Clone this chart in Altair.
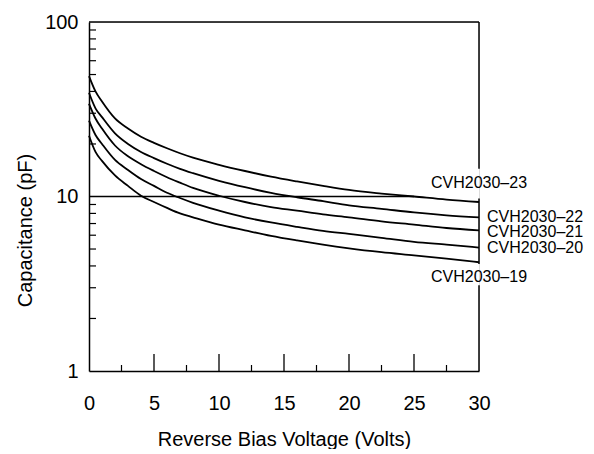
import altair as alt
import pandas as pd

# Reverse bias voltage (V) sample points
voltage = [0, 0.5, 1, 2, 3, 4, 5, 6, 7, 8, 10, 12, 14, 16, 18, 20, 22.5, 25, 27.5, 30]
# Capacitance (pF) per device
c23 = [49, 40, 35, 28, 24.5, 22, 20.3, 18.9, 17.7, 16.7, 15.2, 14.0, 13.0, 12.2, 11.5, 10.9, 10.4, 10.0, 9.6, 9.3]
c22 = [39.3, 32, 28.5, 23, 20, 18, 16.6, 15.4, 14.4, 13.6, 12.3, 11.3, 10.5, 9.9, 9.4, 8.9, 8.5, 8.1, 7.8, 7.6]
c21 = [34, 28, 24.5, 19.6, 17.0, 15.3, 14.0, 12.9, 12.0, 11.2, 10.1, 9.3, 8.7, 8.3, 7.9, 7.6, 7.2, 6.9, 6.6, 6.4]
c20 = [27.2, 22.5, 20, 16.2, 14.2, 12.6, 11.5, 10.5, 9.8, 9.2, 8.3, 7.6, 7.1, 6.7, 6.35, 6.1, 5.8, 5.5, 5.3, 5.1]
c19 = [22.3, 18, 16, 13.2, 11.5, 10.1, 9.3, 8.6, 8.0, 7.6, 6.9, 6.4, 5.95, 5.6, 5.3, 5.05, 4.8, 4.6, 4.4, 4.2]
series_names = ["CVH2030–23", "CVH2030–22", "CVH2030–21", "CVH2030–20", "CVH2030–19"]
series_values = [c23, c22, c21, c20, c19]

# axis tick values
x_labels = [0, 5, 10, 15, 20, 25, 30]
x_major_ticks = [5, 10, 15, 20, 25]
x_minor_ticks = [2.5, 7.5, 12.5, 17.5, 22.5, 27.5]
y_labels = [1, 10, 100]
y_minor_ticks = [2, 3, 4, 5, 6, 7, 8, 9, 20, 30, 40, 50, 60, 70, 80, 90]

# label anchors (value coordinates)
label_center_names = ["CVH2030–23", "CVH2030–19"]
label_center_y = [11.9, 3.44]
label_left_names = ["CVH2030–22", "CVH2030–21", "CVH2030–20"]
label_left_y = [7.6, 6.3, 5.05]

# right frame segments (broken by labels)
right_seg_y = [1, 4.1, 14.4]
right_seg_y2 = [3.1, 9.75, 100]

FONT = "Liberation Sans"
W, H = 390, 349

rows = []
for name, vals in zip(series_names, series_values):
    for v, c in zip(voltage, vals):
        rows.append({"series": name, "v": v, "c": c})
df = pd.DataFrame(rows)

xs = alt.Scale(domain=[0, 30], nice=False, zero=False)
ys = alt.Scale(type="log", domain=[1, 100], nice=False)

lines = alt.Chart(df).mark_line(color="black", strokeWidth=1.8, interpolate="monotone").encode(
    x=alt.X("v:Q", scale=xs, axis=alt.Axis(
        values=x_labels, ticks=False, tickSize=0, grid=False, labelFlush=False,
        labelFontSize=20, labelFont=FONT, labelColor="black", labelPadding=38,
        labelBaseline="alphabetic", domainColor="black", domainWidth=1.5,
        title="Reverse Bias Voltage (Volts)", titleFontSize=20, titleFont=FONT,
        titleFontWeight="normal", titleColor="black", titleBaseline="alphabetic",
        titleY=74)),
    y=alt.Y("c:Q", scale=ys, axis=alt.Axis(
        values=y_labels, format="d", ticks=False, tickSize=0, grid=False,
        labelFlush=False, labelOverlap=False,
        labelFontSize=20, labelFont=FONT, labelColor="black", labelPadding=11,
        domainColor="black", domainWidth=1.5,
        title="Capacitance (pF)", titleFontSize=20, titleFont=FONT,
        titleFontWeight="normal", titleColor="black", titleAngle=270,
        titleAlign="center", titleBaseline="middle", titleX=-64, titleY=208)),
    detail="series:N",
)

grid10 = alt.Chart(pd.DataFrame({"x": [0], "x2": [25], "y": [10]})).mark_rule(
    color="black", strokeWidth=1.3).encode(
    x=alt.X("x:Q", scale=xs), x2="x2:Q", y=alt.Y("y:Q", scale=ys))

top = alt.Chart(pd.DataFrame({"x": [0], "x2": [30], "y": [100]})).mark_rule(
    color="black", strokeWidth=1.5).encode(
    x=alt.X("x:Q", scale=xs), x2="x2:Q", y=alt.Y("y:Q", scale=ys))

right = alt.Chart(pd.DataFrame({"x": [30] * 3, "y": right_seg_y, "y2": right_seg_y2})).mark_rule(
    color="black", strokeWidth=1.5).encode(
    x=alt.X("x:Q", scale=xs), y=alt.Y("y:Q", scale=ys), y2="y2:Q")

yticks = alt.Chart(pd.DataFrame({"y": y_minor_ticks})).mark_rule(
    color="black", strokeWidth=1.2).encode(
    y=alt.Y("y:Q", scale=ys), x=alt.value(0), x2=alt.value(7))

xmajor = alt.Chart(pd.DataFrame({"x": x_major_ticks})).mark_rule(
    color="black", strokeWidth=1.3).encode(
    x=alt.X("x:Q", scale=xs), y=alt.value(H), y2=alt.value(H - 17))

xminor = alt.Chart(pd.DataFrame({"x": x_minor_ticks})).mark_rule(
    color="black", strokeWidth=1.2).encode(
    x=alt.X("x:Q", scale=xs), y=alt.value(H), y2=alt.value(H - 6))

lab_c = alt.Chart(pd.DataFrame({"x": [30] * 2, "y": label_center_y, "t": label_center_names})).mark_text(
    align="center", baseline="middle", fontSize=16, font=FONT, color="black").encode(
    x=alt.X("x:Q", scale=xs), y=alt.Y("y:Q", scale=ys), text="t:N")

lab_l = alt.Chart(pd.DataFrame({"x": [30] * 3, "y": label_left_y, "t": label_left_names})).mark_text(
    align="left", baseline="middle", dx=8, fontSize=16, font=FONT, color="black").encode(
    x=alt.X("x:Q", scale=xs), y=alt.Y("y:Q", scale=ys), text="t:N")

chart = alt.layer(grid10, top, right, yticks, xmajor, xminor, lines, lab_c, lab_l).properties(
    width=W, height=H,
    padding={"left": 81, "top": 14, "right": 107, "bottom": 78},
    autosize=alt.AutoSizeParams(type="none"),
).configure_view(stroke=None).configure(font=FONT)

chart.save("out.html", embed_options={"renderer": "svg", "actions": False})
